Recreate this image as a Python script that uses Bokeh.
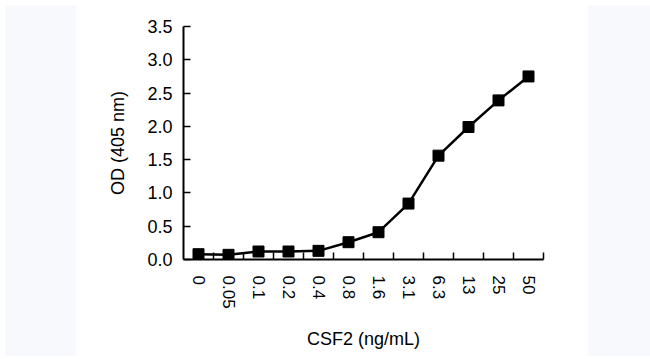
from bokeh.plotting import figure
from bokeh.models import FixedTicker, Div, Range1d
from bokeh.layouts import row
from bokeh.embed import file_html
from bokeh.resources import INLINE

categories = ["0", "0.05", "0.1", "0.2", "0.4", "0.8", "1.6", "3.1", "6.3", "13", "25", "50"]
od_values = [0.08, 0.07, 0.12, 0.12, 0.13, 0.26, 0.41, 0.84, 1.56, 1.99, 2.39, 2.75]
y_ticks = [0.0, 0.5, 1.0, 1.5, 2.0, 2.5, 3.0, 3.5]

positions = list(range(len(categories)))
boundaries = [i + 0.5 for i in positions]

FONT = "Liberation Sans"

p = figure(width=502, height=351, output_backend="svg", toolbar_location=None,
           x_range=Range1d(-0.5, len(categories) - 0.5), y_range=Range1d(0, 3.5))
p.min_border_left = 102
p.min_border_right = 40
p.min_border_top = 26
p.min_border_bottom = 89
p.outline_line_color = None
p.background_fill_color = "white"
p.border_fill_color = "white"
p.xgrid.visible = False
p.ygrid.visible = False

p.line(positions, od_values, line_color="black", line_width=2.5)
p.scatter(positions, od_values, marker="square", size=11, fill_color="black", line_color="black")

xa = p.xaxis[0]
xa.ticker = FixedTicker(ticks=positions, minor_ticks=boundaries)
xa.major_label_overrides = {i: c for i, c in zip(positions, categories)}
xa.major_label_orientation = "vertical"
xa.major_tick_line_color = None
xa.minor_tick_in = 7
xa.minor_tick_out = 0
xa.minor_tick_line_color = "black"
xa.minor_tick_line_width = 1.5
xa.axis_line_width = 2
xa.axis_line_color = "black"
xa.major_label_text_font = FONT
xa.major_label_text_font_size = "17px"
xa.major_label_text_color = "black"
xa.major_label_standoff = 10
xa.axis_label = "CSF2 (ng/mL)"
xa.axis_label_text_font = FONT
xa.axis_label_text_font_style = "normal"
xa.axis_label_text_font_size = "18px"
xa.axis_label_text_color = "black"
xa.axis_label_standoff = 17

ya = p.yaxis[0]
ya.ticker = FixedTicker(ticks=y_ticks)
ya.major_label_overrides = {t: f"{t:.1f}" for t in y_ticks}
ya.major_tick_in = 7
ya.major_tick_out = 0
ya.major_tick_line_width = 1.5
ya.major_tick_line_color = "black"
ya.minor_tick_line_color = None
ya.axis_line_width = 2
ya.axis_line_color = "black"
ya.major_label_text_font = FONT
ya.major_label_text_font_size = "18px"
ya.major_label_text_color = "black"
ya.major_label_standoff = 11
ya.axis_label = "OD (405 nm)"
ya.axis_label_text_font = FONT
ya.axis_label_text_font_style = "normal"
ya.axis_label_text_font_size = "18px"
ya.axis_label_text_color = "black"
ya.axis_label_standoff = 16

left = Div(width=71, height=351, styles={"background-color": "#f8f9fc"})
right = Div(width=69, height=351, styles={"background-color": "#f8f9fc"})
layout = row(left, p, right, spacing=0)

open("out.html", "w").write(file_html(layout, INLINE))
